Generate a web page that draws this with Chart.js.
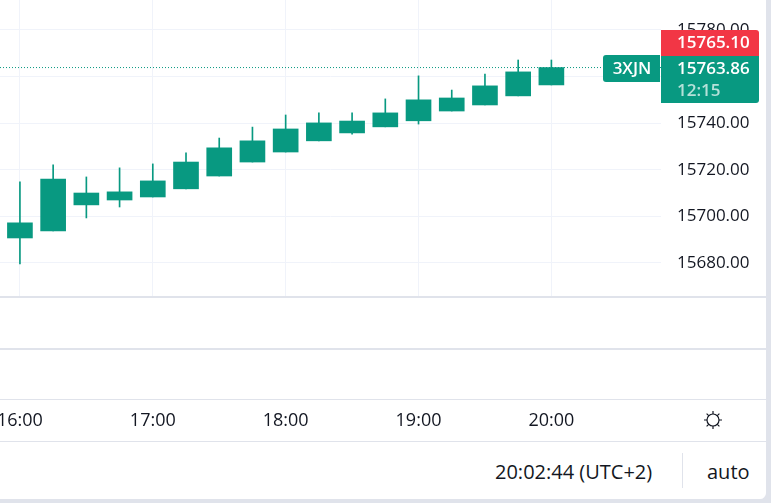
<!DOCTYPE html>
<html>
<head>
<meta charset="utf-8">
<script src="https://cdn.jsdelivr.net/npm/chart.js@4.4.1/dist/chart.umd.min.js"></script>
<style>
  html, body { margin: 0; padding: 0; background: #e0e3eb; overflow: hidden; }
  #wrap { position: relative; width: 766px; height: 499px; background: #fff; border-bottom-right-radius: 6px; overflow: hidden; }
  #chart { position: absolute; left: 0; top: 0; }
  .hline { position: absolute; left: 0; width: 766px; background: #e0e3eb; }
  #clock, #auto { position: absolute; top: 458px; font: 20px "Open Sans", sans-serif; color: #131722; line-height: 28px; white-space: nowrap; }
  #clock { left: 495px; }
  #auto { left: 707px; }
  #vsep { position: absolute; left: 682px; top: 453px; width: 1px; height: 35px; background: #e0e3eb; }
  #sun { position: absolute; left: 701px; top: 408px; }
</style>
</head>
<body>
<div id="wrap">
  <canvas id="chart" width="766" height="441"></canvas>
  <div class="hline" style="top:296px;height:2px"></div>
  <div class="hline" style="top:348px;height:2px"></div>
  <div class="hline" style="top:399px;height:1px"></div>
  <div class="hline" style="top:441px;height:1px"></div>
  <div id="clock">20:02:44 (UTC+2)</div>
  <div id="vsep"></div>
  <div id="auto">auto</div>
  <svg id="sun" width="24" height="24" viewBox="0 0 24 24" fill="none" stroke="#131722" stroke-width="1.2">
    <circle cx="12" cy="12" r="6"/>
    <path d="M12 3v3M12 18v3M3 12h3M18 12h3M5.6 5.6l2.1 2.1M16.3 16.3l2.1 2.1M5.6 18.4l2.1-2.1M16.3 7.7l2.1-2.1"/>
  </svg>
</div>
<script>
'use strict';
// 15 minute candles, minutes after 16:00
const candleMinutes = [0, 15, 30, 45, 60, 75, 90, 105, 120, 135, 150, 165, 180, 195, 210, 225, 240];
const opens  = [15690.7, 15693.7, 15704.9, 15707.0, 15708.3, 15711.8, 15717.3, 15723.3, 15727.6, 15732.4, 15735.8, 15738.4, 15741.0, 15745.2, 15747.8, 15751.7, 15756.4];
const highs  = [15714.8, 15722.1, 15716.9, 15720.8, 15722.5, 15727.2, 15733.6, 15738.3, 15743.5, 15744.4, 15744.4, 15750.4, 15760.3, 15754.2, 15761.1, 15767.1, 15767.1];
const lows   = [15679.6, 15693.7, 15699.3, 15704.0, 15708.3, 15711.8, 15717.3, 15723.3, 15727.6, 15732.4, 15735.3, 15738.4, 15739.6, 15745.2, 15747.8, 15751.7, 15756.4];
const closes = [15697.2, 15716.0, 15710.0, 15710.5, 15715.2, 15723.3, 15729.4, 15732.4, 15737.5, 15740.1, 15740.9, 15744.4, 15750.0, 15750.8, 15756.0, 15762.0, 15763.86];
// axis ticks
const tickMinutes = [0, 60, 120, 180, 240];
const tickLabels = ['16:00', '17:00', '18:00', '19:00', '20:00'];
const priceMin = 15665.36, priceMax = 15792.86, priceStep = 20;
const timeMin = -9, timeMax = 289.5;
// price tags on the right
const askPrice = 15765.10;
const countdown = '12:15';
const symbol = '3XJN';

const green = '#089981';
const red = '#f23645';
const textColor = '#131722';
const gridColor = '#f0f3fa';
const lastClose = closes[closes.length - 1];

// draws the tags beside the price axis, placed from the last close
const priceTags = {
  id: 'priceTags',
  afterDraw(chart) {
    const {ctx, chartArea, scales: {y}} = chart;
    const yc = Math.round(y.getPixelForValue(lastClose));
    const left = chartArea.right;
    ctx.save();
    ctx.fillStyle = red;
    ctx.beginPath(); ctx.roundRect(left, yc - 38, 98, 26, [0, 3, 0, 0]); ctx.fill();
    ctx.fillStyle = green;
    ctx.beginPath(); ctx.roundRect(left, yc - 12, 98, 47, [0, 0, 3, 0]); ctx.fill();
    ctx.beginPath(); ctx.roundRect(left - 58, yc - 13, 57, 27, [3, 0, 0, 3]); ctx.fill();
    ctx.font = '600 17px "Open Sans", sans-serif';
    ctx.textBaseline = 'middle';
    ctx.textAlign = 'left';
    ctx.fillStyle = '#fff';
    ctx.fillText(askPrice.toFixed(2), left + 16, yc - 25);
    ctx.fillText(lastClose.toFixed(2), left + 16, yc + 1);
    ctx.fillStyle = 'rgba(255,255,255,0.7)';
    ctx.fillText(countdown, left + 16, yc + 23);
    ctx.fillStyle = '#fff';
    ctx.textAlign = 'center';
    ctx.fillText(symbol, left - 29, yc + 1);
    ctx.restore();
  }
};

const ctx = document.getElementById('chart').getContext('2d');
new Chart(ctx, {
  type: 'bar',
  data: {
    datasets: [
      {
        label: 'wick', order: 2, grouped: false, barThickness: 1,
        backgroundColor: green,
        data: candleMinutes.map((m, i) => ({x: m, y: [lows[i], highs[i]]}))
      },
      {
        label: 'body', order: 1, grouped: false, barThickness: 25,
        backgroundColor: green,
        data: candleMinutes.map((m, i) => ({x: m, y: [opens[i], closes[i]]}))
      },
      {
        type: 'line', label: 'last', order: 0,
        borderColor: green, borderWidth: 1, borderDash: [1, 2], pointRadius: 0,
        data: [{x: timeMin, y: lastClose}, {x: timeMax, y: lastClose}]
      }
    ]
  },
  options: {
    responsive: false,
    animation: false,
    plugins: {legend: {display: false}, tooltip: {enabled: false}},
    scales: {
      x: {
        type: 'linear', min: timeMin, max: timeMax, offset: false,
        afterBuildTicks: s => { s.ticks = tickMinutes.map(v => ({value: v})); },
        afterFit: s => { s.height = 144; s.paddingLeft = 0; s.paddingRight = 0; },
        ticks: {
          padding: 113, autoSkip: false, maxRotation: 0, color: textColor,
          font: {family: '"Open Sans", sans-serif', size: 18},
          callback: v => tickLabels[tickMinutes.indexOf(v)]
        },
        grid: {color: gridColor, drawTicks: false, offset: false},
        border: {display: false}
      },
      y: {
        position: 'right', min: priceMin, max: priceMax,
        afterFit: s => { s.width = 105; s.paddingTop = 0; s.paddingBottom = 0; },
        ticks: {
          stepSize: priceStep, includeBounds: false, padding: 16, color: textColor,
          font: {family: '"Open Sans", sans-serif', size: 17},
          callback: v => v.toFixed(2)
        },
        grid: {color: gridColor, drawTicks: false},
        border: {display: false}
      }
    }
  },
  plugins: [priceTags]
});
</script>
</body>
</html>
